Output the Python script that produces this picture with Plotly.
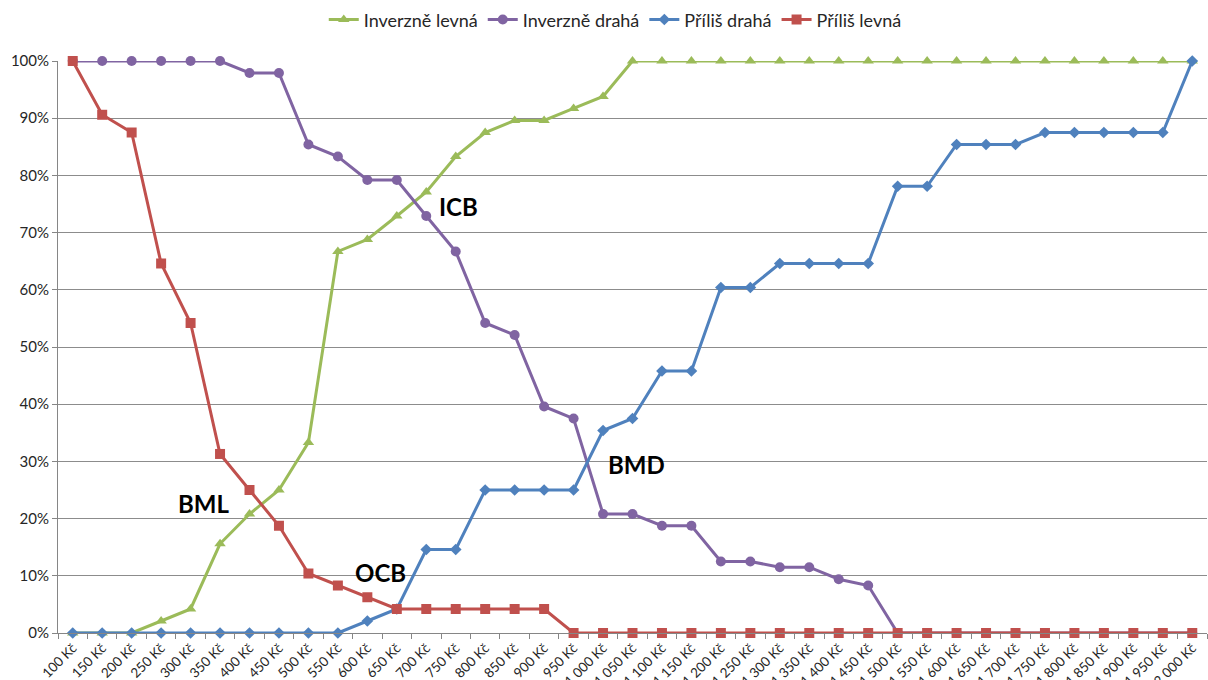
import plotly.graph_objects as go

# Price points (Kč)
prices = list(range(100, 2001, 50))


def fmt_price(p):
    s = f"{p:,}".replace(",", " ")
    return f"{s} Kč"


categories = [fmt_price(p) for p in prices]

# Cumulative shares of respondents (%)
inverzne_levna = [0, 0, 0, 2.1, 4.2, 15.6, 20.8, 25.0, 33.3, 66.7, 68.8, 72.9, 77.1, 83.3,
                  87.5, 89.6, 89.6, 91.7, 93.8, 100, 100, 100, 100, 100, 100, 100, 100,
                  100, 100, 100, 100, 100, 100, 100, 100, 100, 100, 100, 100]
inverzne_draha = [100, 100, 100, 100, 100, 100, 97.9, 97.9, 85.4, 83.3, 79.2, 79.2, 72.9,
                  66.7, 54.2, 52.1, 39.6, 37.5, 20.8, 20.8, 18.75, 18.75, 12.5, 12.5, 11.5,
                  11.5, 9.4, 8.3, 0, 0, 0, 0, 0, 0, 0, 0, 0, 0, 0]
prilis_draha = [0, 0, 0, 0, 0, 0, 0, 0, 0, 0, 2.1, 4.2, 14.6, 14.6, 25.0, 25.0, 25.0, 25.0,
                35.4, 37.5, 45.8, 45.8, 60.4, 60.4, 64.6, 64.6, 64.6, 64.6, 78.1, 78.1,
                85.4, 85.4, 85.4, 87.5, 87.5, 87.5, 87.5, 87.5, 100]
prilis_levna = [100, 90.6, 87.5, 64.6, 54.2, 31.3, 25.0, 18.75, 10.4, 8.3, 6.25, 4.2, 4.2,
                4.2, 4.2, 4.2, 4.2, 0, 0, 0, 0, 0, 0, 0, 0, 0, 0, 0, 0, 0, 0, 0, 0, 0, 0,
                0, 0, 0, 0]

# Intersection labels: (text, category position, value %)
point_labels = [("BML", 4.45, 22.7), ("ICB", 13.1, 74.5), ("OCB", 10.45, 10.5),
                ("BMD", 19.14, 29.5)]

series = [
    ("Inverzně levná", inverzne_levna, "#9BBB59", "triangle-up", 10),
    ("Inverzně drahá", inverzne_draha, "#8064A2", "circle", 10),
    ("Příliš drahá", prilis_draha, "#4F81BD", "diamond", 9),
    ("Příliš levná", prilis_levna, "#C0504D", "square", 10),
]

fig = go.Figure()
for name, vals, color, symbol, size in series:
    fig.add_trace(go.Scatter(
        x=categories, y=vals, name=name, mode="lines+markers",
        line=dict(color=color, width=3),
        marker=dict(color=color, symbol=symbol, size=size),
        cliponaxis=False,
    ))

for text, xi, yv in point_labels:
    fig.add_annotation(x=xi, y=yv, xref="x", yref="y", text=f"<b>{text}</b>",
                       showarrow=False, font=dict(family="Lato", size=24, color="#000000"))

fig.update_layout(
    width=1208, height=680,
    margin=dict(l=58, r=1, t=61, b=47),
    paper_bgcolor="white", plot_bgcolor="white",
    font=dict(family="Lato", size=15, color="#262626"),
    showlegend=True,
    legend=dict(orientation="h", x=0.485, xanchor="center", y=1.072, yanchor="middle",
                font=dict(size=18, color="#262626"), itemwidth=30,
                bgcolor="rgba(0,0,0,0)"),
    xaxis=dict(
        type="category", range=[-0.5, 38.5], tickangle=-45,
        showline=True, linecolor="#868686", linewidth=1,
        ticks="outside", tickson="boundaries", ticklen=5, tickcolor="#868686",
        showgrid=False, automargin=False, tickfont=dict(size=13.5),
        ticklabelstandoff=1,
    ),
    yaxis=dict(
        range=[0, 100], tickvals=list(range(0, 101, 10)),
        ticktext=[f"{v}%" for v in range(0, 101, 10)],
        showgrid=True, gridcolor="#8C8C8C", gridwidth=1,
        showline=True, linecolor="#868686", linewidth=1,
        ticks="outside", ticklen=5, tickcolor="#868686",
        zeroline=False, automargin=False, tickfont=dict(size=15),
    ),
)

fig.write_html("out.html")
